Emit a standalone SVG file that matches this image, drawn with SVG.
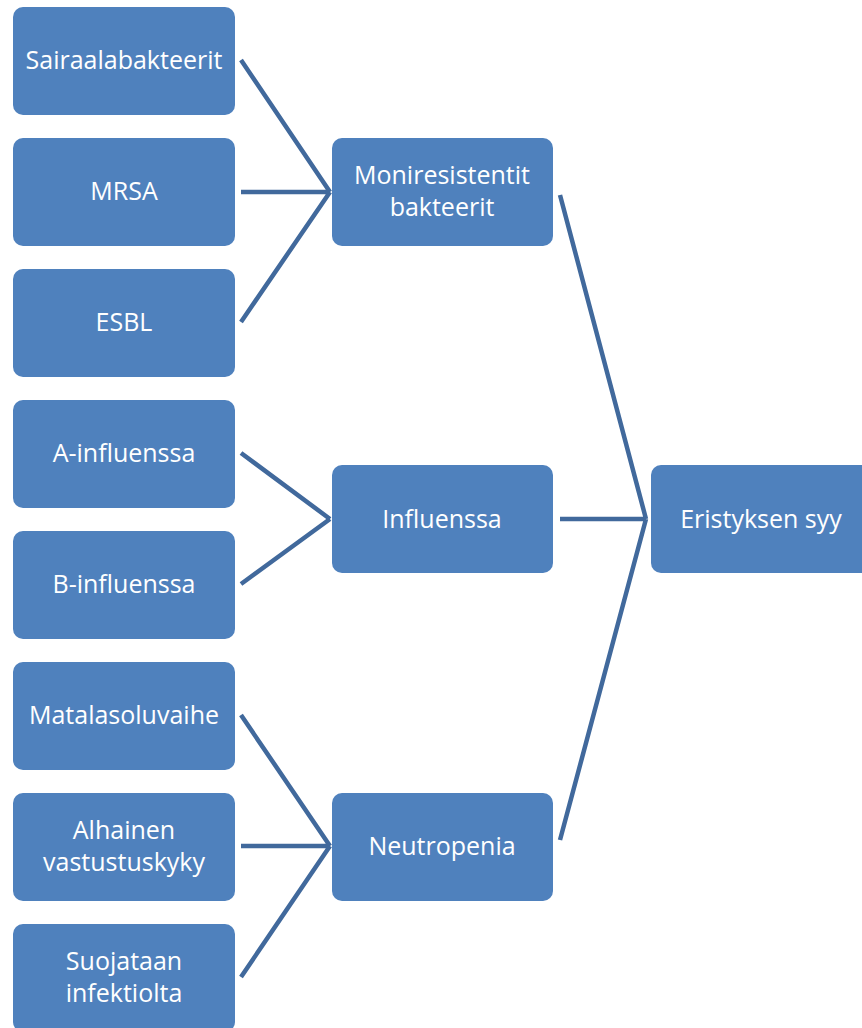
<svg xmlns="http://www.w3.org/2000/svg" width="862" height="1028" viewBox="0 0 862 1028">
<style>
.b{fill:#4f81bd;}
.t{fill:#fff;font-family:"Open Sans","Liberation Sans",sans-serif;font-size:25px;text-anchor:middle;}
.c{stroke:#41699c;stroke-width:4.5;fill:none;}
</style>
<rect width="862" height="1028" fill="#fff"/>
<g id="connectors">
<path class="c" d="M241,60 L330,192 M241,192 L330,192 M241,322 L330,192"/>
<path class="c" d="M241,453 L330,519 M241,584 L330,519"/>
<path class="c" d="M241,715 L330,846 M241,846 L330,846 M241,977 L330,846"/>
<path class="c" d="M560,195 L646,519 M560,519 L646,519 M560,840 L646,519"/>
</g>
<g id="n1"><rect class="b" x="13" y="7" width="222" height="108" rx="10"/><text class="t" x="124" y="69">Sairaalabakteerit</text></g>
<g id="n2"><rect class="b" x="13" y="138" width="222" height="108" rx="10"/><text class="t" x="124" y="200">MRSA</text></g>
<g id="n3"><rect class="b" x="13" y="269" width="222" height="108" rx="10"/><text class="t" x="124" y="331">ESBL</text></g>
<g id="n4"><rect class="b" x="13" y="400" width="222" height="108" rx="10"/><text class="t" x="124" y="462">A-influenssa</text></g>
<g id="n5"><rect class="b" x="13" y="531" width="222" height="108" rx="10"/><text class="t" x="124" y="593">B-influenssa</text></g>
<g id="n6"><rect class="b" x="13" y="662" width="222" height="108" rx="10"/><text class="t" x="124" y="724">Matalasoluvaihe</text></g>
<g id="n7"><rect class="b" x="13" y="793" width="222" height="108" rx="10"/><text class="t" x="124" y="839">Alhainen</text><text class="t" x="124" y="871">vastustuskyky</text></g>
<g id="n8"><rect class="b" x="13" y="924" width="222" height="108" rx="10"/><text class="t" x="124" y="970">Suojataan</text><text class="t" x="124" y="1002">infektiolta</text></g>
<g id="m1"><rect class="b" x="332" y="138" width="221" height="108" rx="10"/><text class="t" x="442" y="184">Moniresistentit</text><text class="t" x="442" y="216">bakteerit</text></g>
<g id="m2"><rect class="b" x="332" y="465" width="221" height="108" rx="10"/><text class="t" x="442" y="528">Influenssa</text></g>
<g id="m3"><rect class="b" x="332" y="793" width="221" height="108" rx="10"/><text class="t" x="442" y="855">Neutropenia</text></g>
<g id="r1"><rect class="b" x="651" y="465" width="221" height="108" rx="10"/><text class="t" x="761" y="528">Eristyksen syy</text></g>
</svg>
